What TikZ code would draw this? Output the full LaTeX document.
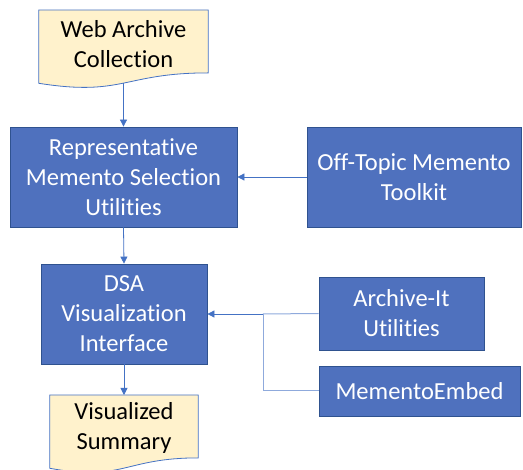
\documentclass[tikz,border=0pt]{standalone}
\usepackage{fontspec}
\setmainfont{Carlito}[Ligatures={NoCommon,NoRequired,NoContextual}]
\usetikzlibrary{arrows.meta}
\definecolor{boxfill}{HTML}{4F71BE}
\definecolor{boxline}{HTML}{2F528F}
\definecolor{docfill}{HTML}{FFF2CC}
\definecolor{conn}{HTML}{4472C4}
\definecolor{connlight}{HTML}{8FAADC}
\begin{document}
\begin{tikzpicture}[x=1pt,y=-1pt,
  every node/.style={font=\fontsize{24.5}{30}\selectfont, align=center, inner sep=0pt},
  procbox/.style={draw=boxline, fill=boxfill, line width=0.8pt, text=white},
  doctop/.style={anchor=north, text=black, minimum height=62.5pt},
  docshape/.style={draw=conn, fill=docfill, line width=0.8pt},
  arr/.style={draw=conn, line width=0.8pt, -{Triangle[length=7pt,width=7pt]}},
  lightline/.style={draw=connlight, line width=1pt}
]
\useasboundingbox (0,0) rectangle (523,470);

% document shapes (top parts as nodes)
\node[doctop, minimum width=169pt] (wac) at (123.5,10) {};
\draw[docshape] (wac.north west) -- (wac.north east) -- (wac.south east)
  .. controls (wac.south) and ([yshift=-23.8pt]wac.south) .. ([yshift=-10.4pt]wac.south west) -- cycle;
\node[text=black] (wactext) at (123.5,44) {Web Archive\\Collection};

\node[doctop, minimum width=148pt] (vs) at (124,395) {};
\draw[docshape] (vs.north west) -- (vs.north east) -- (vs.south east)
  .. controls (vs.south) and ([yshift=-23.8pt]vs.south) .. ([yshift=-10.4pt]vs.south west) -- cycle;
\node[text=black] (vstext) at (124,428) {Visualized\\Summary};

% process boxes
\node[procbox, minimum width=227pt, minimum height=100pt] (rep) at (123.5,177) {Representative\\Memento Selection\\Utilities};
\node[procbox, minimum width=214pt, minimum height=100pt] (otm) at (414,177) {Off-Topic Memento\\Toolkit};
\node[procbox, minimum width=166pt, minimum height=100pt] (dsa) at (124,314) {DSA\\Visualization\\Interface};
\node[procbox, minimum width=165pt, minimum height=73pt] (ait) at (401.5,313.5) {Archive-It\\Utilities};
\node[procbox, minimum width=201pt, minimum height=50pt] (me) at (419.5,391) {MementoEmbed};

% connectors
\coordinate (wacb) at ([yshift=-10.2pt]wac.south);
\draw[arr] (wacb) -- (rep.north);
\draw[arr] (otm.west) -- (rep.east);
\draw[arr] (rep.south) -- (dsa.north);
\draw[arr] (dsa.south) -- (vs.north);

\coordinate (junc) at (263,314);
\draw[lightline] (ait.west) -- (junc);
\draw[lightline] (me.west) -| (junc);
\draw[arr] (junc) -- (dsa.east);
\end{tikzpicture}
\end{document}
